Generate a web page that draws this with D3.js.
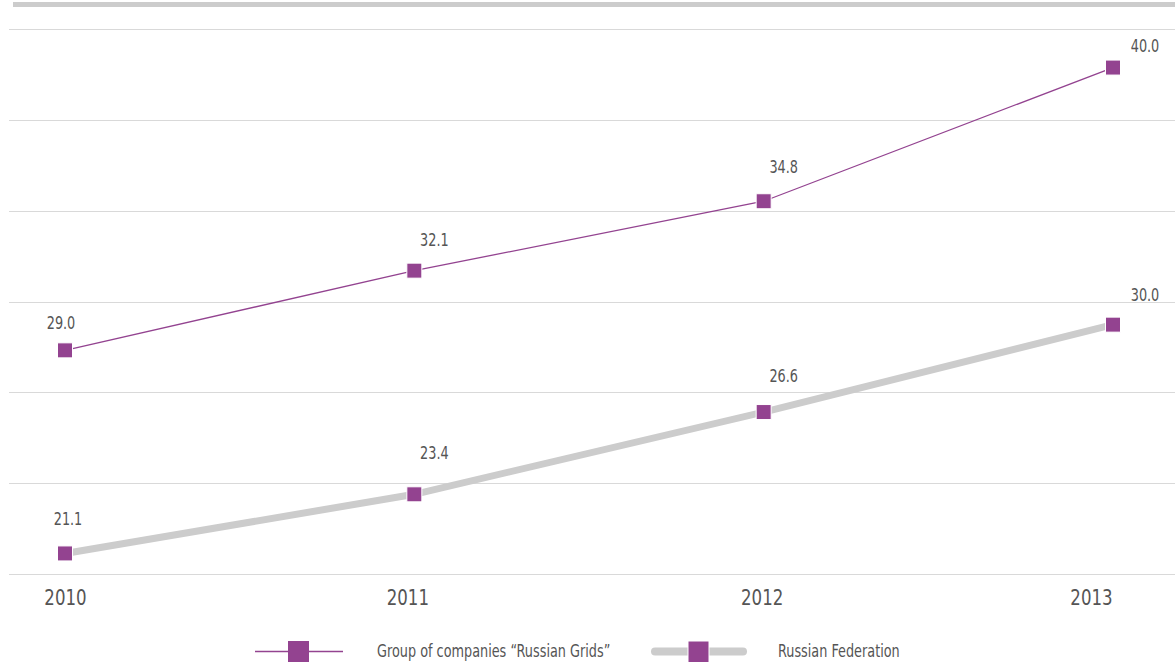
<!DOCTYPE html>
<html><head><meta charset="utf-8">
<script src="https://cdn.jsdelivr.net/npm/d3@7"></script>
<style>
body{margin:0;background:#fff;}
text{font-family:"DejaVu Sans Condensed","Liberation Sans Narrow",sans-serif;fill:#555;}
</style></head>
<body><svg id="c" width="1175" height="662"></svg>
<script>
const years = ["2010","2011","2012","2013"];
const groupValues = [29.0, 32.1, 34.8, 40.0];
const federationValues = [21.1, 23.4, 26.6, 30.0];
const seriesNames = ["Group of companies \u201cRussian Grids\u201d", "Russian Federation"];
const yDomain = [20.3, 41.5];

const svg = d3.select("#c");
const purple = "#934390", gray = "#cccccc";
const x = d3.scalePoint().domain(years).range([65, 1113]);
const y = d3.scaleLinear().domain(yDomain).range([574, 29]);
const SX = 0.84;

function ctext(g, px, py, anchor, size, str){
  return g.append("text").attr("transform",`translate(${px},${py}) scale(${SX},1)`)
    .attr("text-anchor",anchor).attr("dy","0.35em").attr("font-size",size).text(str);
}

// top bar
svg.append("line").attr("x1",13).attr("x2",1175).attr("y1",4.5).attr("y2",4.5)
  .attr("stroke",gray).attr("stroke-width",5);

// gridlines
const gridTicks = d3.range(7).map(i => yDomain[0] + i*(yDomain[1]-yDomain[0])/6);
svg.append("g").selectAll("line").data(gridTicks).join("line")
  .attr("x1",9).attr("x2",1175).attr("y1",d=>Math.round(y(d))+0.5).attr("y2",d=>Math.round(y(d))+0.5)
  .attr("stroke","#d9d9d9").attr("stroke-width",1);

// x axis labels
const tickDx = [0,-7,-2,-22];
const xAxis = d3.axisBottom(x).tickSize(0).tickPadding(0);
const gx = svg.append("g").attr("transform","translate(0,597)").call(xAxis);
gx.select(".domain").remove();
gx.selectAll(".tick text").attr("font-size",22).attr("dy","0.35em").attr("y",0)
  .attr("fill","#555").style("font-family",null)
  .attr("transform",(d,i)=>`translate(${tickDx[i]},0) scale(${SX},1)`);

const line = d3.line().x((d,i)=>x(years[i])).y(d=>y(d));
svg.append("path").datum(federationValues).attr("d",line).attr("fill","none")
  .attr("stroke",gray).attr("stroke-width",7);
svg.append("path").datum(groupValues).attr("d",line).attr("fill","none")
  .attr("stroke",purple).attr("stroke-width",1.3);

const labelLayout = [
  {dx:[-4,20,20,32], dy:[-27,-31,-34,-22]},
  {dx:[3,20,20,32], dy:[-34,-41,-36,-30]}
];
[groupValues, federationValues].forEach((vals,s)=>{
  const g = svg.append("g");
  g.selectAll("rect").data(vals).join("rect")
    .attr("x",(d,i)=>x(years[i])-7.5).attr("y",d=>y(d)-7.5).attr("width",15).attr("height",15)
    .attr("fill",purple).attr("stroke","#fff").attr("stroke-width",1);
  vals.forEach((d,i)=>{
    ctext(g, x(years[i])+labelLayout[s].dx[i], y(d)+labelLayout[s].dy[i], "middle", 17, d.toFixed(1));
  });
});

// legend
const lg = svg.append("g");
lg.append("line").attr("x1",255).attr("x2",343).attr("y1",651.5).attr("y2",651.5)
  .attr("stroke",purple).attr("stroke-width",1.3);
lg.append("rect").attr("x",288).attr("y",641).attr("width",21).attr("height",22).attr("fill",purple);
ctext(lg, 377, 651, "start", 17, seriesNames[0]);
lg.append("line").attr("x1",655).attr("x2",743).attr("y1",651.5).attr("y2",651.5)
  .attr("stroke",gray).attr("stroke-width",8).attr("stroke-linecap","round");
lg.append("rect").attr("x",688).attr("y",641).attr("width",21).attr("height",22).attr("fill",purple)
  .attr("stroke","#fff").attr("stroke-width",1);
ctext(lg, 778, 651, "start", 17, seriesNames[1]);
</script></body></html>
